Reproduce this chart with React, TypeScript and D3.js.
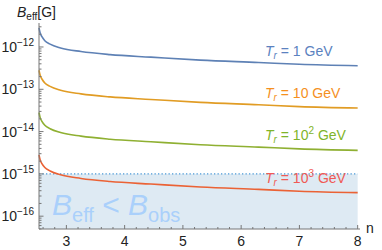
import {useEffect, useRef} from "react";
import * as d3 from "d3";

// valeurs
const nValues = [2.53, 2.55, 2.58, 2.63, 2.72, 2.9, 3.25, 3.75, 4.45, 5.3, 6.3, 7.0, 8.0];
const bT1 = [2.82e-12, 2.14e-12, 1.75e-12, 1.41e-12, 1.17e-12, 9.5e-13, 7.8e-13, 6.6e-13, 5.75e-13, 4.9e-13, 4.3e-13, 3.9e-13, 3.6e-13];
const bT10 = [2.82e-13, 2.14e-13, 1.75e-13, 1.41e-13, 1.17e-13, 9.5e-14, 7.8e-14, 6.6e-14, 5.75e-14, 4.9e-14, 4.3e-14, 3.9e-14, 3.6e-14];
const bT100 = [2.82e-14, 2.14e-14, 1.75e-14, 1.41e-14, 1.17e-14, 9.5e-15, 7.8e-15, 6.6e-15, 5.75e-15, 4.9e-15, 4.3e-15, 3.9e-15, 3.6e-15];
const bT1000 = [2.82e-15, 2.14e-15, 1.75e-15, 1.41e-15, 1.17e-15, 9.5e-16, 7.8e-16, 6.6e-16, 5.75e-16, 4.9e-16, 4.3e-16, 3.9e-16, 3.6e-16];
const seriesLabels = ["1", "10", "10^2", "10^3"];
const xTicks = [3, 4, 5, 6, 7, 8];
const yTickExps = [-12, -13, -14, -15, -16];
const bObs = 1e-15;

const lineColors = ["#5e81b5", "#e19c24", "#8fb032", "#eb6235"];
const textColors = ["#5b82c0", "#f5901e", "#7fb42a", "#f05a55"];

const App = () => {
  const ref = useRef(null);

  useEffect(() => {
    const width = 382, height = 250;
    d3.select(ref.current).selectAll("*").remove();
    const svg = d3.select(ref.current)
      .append("svg")
      .attr("width", width)
      .attr("height", height)
      .style("position", "absolute")
      .style("left", "0px")
      .style("top", "0px")
      .style("font-family", "'Liberation Sans', Arial, sans-serif");

    const x = d3.scaleLinear().domain([2.53, 8.04]).range([39, 360]);
    const y = d3.scaleLog().domain([Math.pow(10, -16.303), Math.pow(10, -11.433)]).range([229, 23]);

    // zone B_eff < B_obs
    svg.append("rect")
      .attr("x", x(2.53))
      .attr("y", y(bObs))
      .attr("width", x(8) - x(2.53))
      .attr("height", y.range()[0] - y(bObs))
      .attr("fill", "#deeaf3");

    svg.append("line")
      .attr("x1", x(2.53)).attr("x2", x(8))
      .attr("y1", y(bObs)).attr("y2", y(bObs))
      .attr("stroke", "#4a98d6")
      .attr("stroke-width", 1.2)
      .attr("stroke-dasharray", "1.3,2.2");

    const big = svg.append("text")
      .attr("x", 52)
      .attr("y", 215)
      .attr("fill", "#aad0fb")
      .attr("font-size", 30);
    big.append("tspan").attr("font-style", "italic").text("B");
    big.append("tspan").attr("font-size", 20).attr("dy", 7).text("eff");
    big.append("tspan").attr("dy", -7).text(" < ");
    big.append("tspan").attr("font-style", "italic").text("B");
    big.append("tspan").attr("font-size", 20).attr("dy", 7).text("obs");

    // courbes
    const series = [bT1, bT10, bT100, bT1000];
    const line = d3.line<number>()
      .x((_, i) => x(nValues[i]))
      .y((d) => y(d))
      .curve(d3.curveMonotoneX);

    series.forEach((s, k) => {
      svg.append("path")
        .datum(s)
        .attr("fill", "none")
        .attr("stroke", lineColors[k])
        .attr("stroke-width", 1.6)
        .attr("d", line);

      const t = svg.append("text")
        .attr("x", 265)
        .attr("y", y(s[s.length - 1]) - 10)
        .attr("fill", textColors[k])
        .attr("font-size", 14);
      t.append("tspan").attr("font-style", "italic").text("T");
      t.append("tspan").attr("font-style", "italic").attr("font-size", 10).attr("dy", 3).text("r");
      const parts = seriesLabels[k].split("^");
      t.append("tspan").attr("dy", -3).text(" = " + parts[0]);
      if (parts[1]) {
        t.append("tspan").attr("font-size", 10).attr("dy", -6).text(parts[1]);
        t.append("tspan").attr("dy", 6).text(" GeV");
      } else {
        t.append("tspan").text(" GeV");
      }
    });

    // axes
    const axisColor = "#777";
    svg.append("line")
      .attr("x1", 39).attr("x2", 360).attr("y1", 229).attr("y2", 229)
      .attr("stroke", axisColor).attr("stroke-width", 1);
    svg.append("line")
      .attr("x1", 39).attr("x2", 39).attr("y1", 229).attr("y2", 23)
      .attr("stroke", axisColor).attr("stroke-width", 1);

    // graduations x
    const xMinor = d3.range(2.6, 8.01, 0.2).filter((v) => Math.abs(v - Math.round(v)) > 0.01);
    svg.selectAll(".xminor").data(xMinor).enter().append("line")
      .attr("x1", (d) => x(d)).attr("x2", (d) => x(d))
      .attr("y1", 229).attr("y2", 227)
      .attr("stroke", axisColor);
    svg.selectAll(".xmajor").data(xTicks).enter().append("line")
      .attr("x1", (d) => x(d)).attr("x2", (d) => x(d))
      .attr("y1", 229).attr("y2", 225)
      .attr("stroke", axisColor);
    svg.selectAll(".xlab").data(xTicks).enter().append("text")
      .attr("x", (d) => x(d))
      .attr("y", 246)
      .attr("text-anchor", "middle")
      .attr("font-size", 14)
      .attr("fill", "#222")
      .text((d) => d);
    svg.append("text")
      .attr("x", 366).attr("y", 233)
      .attr("font-size", 14).attr("fill", "#222")
      .text("n");

    // graduations y
    const yMinor: number[] = [];
    for (let e = -17; e <= -12; e++) {
      for (let m = 2; m <= 9; m++) {
        const v = m * Math.pow(10, e);
        if (y(v) <= 229 && y(v) >= 23) yMinor.push(v);
      }
    }
    svg.selectAll(".yminor").data(yMinor).enter().append("line")
      .attr("x1", 39).attr("x2", 41.5)
      .attr("y1", (d) => y(d)).attr("y2", (d) => y(d))
      .attr("stroke", axisColor);
    svg.selectAll(".ymajor").data(yTickExps).enter().append("line")
      .attr("x1", 39).attr("x2", 43.5)
      .attr("y1", (d) => y(Math.pow(10, d))).attr("y2", (d) => y(Math.pow(10, d)))
      .attr("stroke", axisColor);
    yTickExps.forEach((e) => {
      const t = svg.append("text")
        .attr("x", 34)
        .attr("y", y(Math.pow(10, e)) + 5)
        .attr("text-anchor", "end")
        .attr("font-size", 14)
        .attr("fill", "#222");
      t.append("tspan").text("10");
      t.append("tspan").attr("font-size", 10).attr("dy", -6).text("\u2212" + (-e));
    });

    // titre axe y
    const yl = svg.append("text")
      .attr("x", 17).attr("y", 17)
      .attr("font-size", 14).attr("fill", "#222");
    yl.append("tspan").attr("font-style", "italic").text("B");
    yl.append("tspan").attr("font-size", 10).attr("dy", 3).text("eff");
    yl.append("tspan").attr("dy", -3).text("[G]");
  }, []);

  return <div ref={ref}></div>;
};

export default App;
